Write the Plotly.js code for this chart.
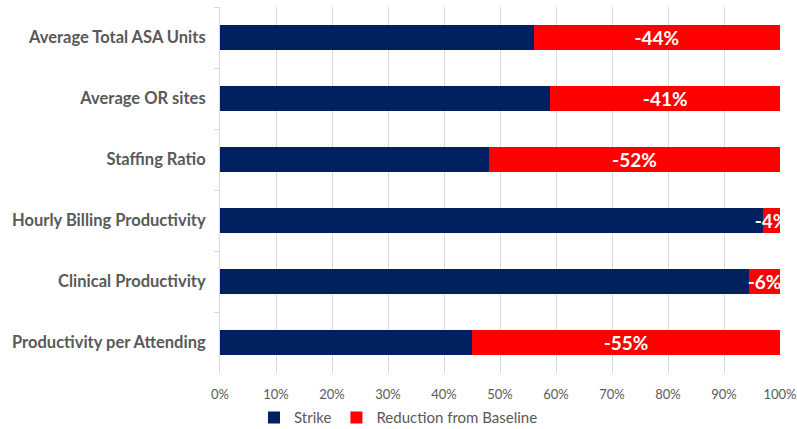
<!DOCTYPE html>
<html><head><meta charset="utf-8">
<script src="https://cdn.plot.ly/plotly-3.0.1.min.js"></script>
<style>html,body{margin:0;padding:0;background:#fff}#chart{width:797px;height:429px}</style>
</head><body><div id="chart"></div>
<script>
const categories = ["Average Total ASA Units","Average OR sites","Staffing Ratio","Hourly Billing Productivity","Clinical Productivity","Productivity per Attending"];
const strike = [56, 59, 48, 97, 94.5, 45];
const reduction = [44, 41, 52, 3, 5.5, 55];
const reductionLabels = ["-44%","-41%","-52%","-4%","-6%","-55%"];
const xTickVals = [0,10,20,30,40,50,60,70,80,90,100];
const xTickText = ["0%","10%","20%","30%","40%","50%","60%","70%","80%","90%","100%"];

const traces = [
  {type:'bar', orientation:'h', name:'Strike', y:categories, x:strike,
   marker:{color:'#002060'}, width:0.4, hoverinfo:'x+y'},
  {type:'bar', orientation:'h', name:'Reduction from Baseline', y:categories, x:reduction,
   marker:{color:'#FF0000'}, width:0.4, text:reductionLabels, textposition:'inside',
   insidetextanchor:'middle', constraintext:'none', textangle:0, cliponaxis:false,
   textfont:{family:'Lato, "Open Sans", sans-serif', size:19, color:'#FFFFFF', weight:'bold'}}
];
const layout = {
  width:797, height:429, barmode:'stack',
  margin:{l:220, r:17, t:7, b:56},
  paper_bgcolor:'#fff', plot_bgcolor:'#fff',
  font:{family:'Lato, "Open Sans", sans-serif', color:'#595959'},
  xaxis:{range:[0,100], tickmode:'array', tickvals:xTickVals, ticktext:xTickText, showgrid:true, gridcolor:'#D9D9D9',
         gridwidth:1, zeroline:false, tickfont:{size:13, color:'#595959'}, ticks:'', ticklabelstandoff:12, fixedrange:true},
  yaxis:{autorange:'reversed', type:'category', showline:true, linecolor:'#D9D9D9', linewidth:1,
         ticks:'outside', tickson:'boundaries', ticklen:5, tickcolor:'#D9D9D9',
         tickfont:{size:16.5, color:'#595959', weight:'bold'}, ticklabelstandoff:10, showgrid:false},
  showlegend:true,
  legend:{orientation:'h', xref:'container', yref:'container', x:0.5, xanchor:'center', y:0.026, yanchor:'middle',
          font:{size:15, color:'#595959'}, traceorder:'normal', itemwidth:30},
};
Plotly.newPlot('chart', traces, layout, {displayModeBar:false, staticPlot:true});
</script></body></html>
